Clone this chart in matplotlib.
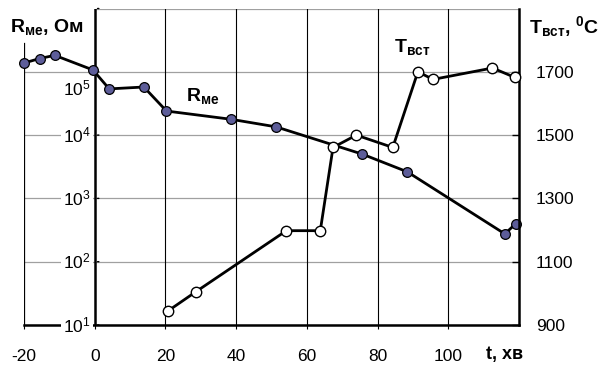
import matplotlib
matplotlib.use("Agg")
import matplotlib.pyplot as plt
import numpy as np

plt.rcParams['font.family'] = ['Liberation Sans', 'DejaVu Sans']
plt.rcParams['mathtext.fontset'] = 'custom'
plt.rcParams['mathtext.rm'] = 'Liberation Sans'
plt.rcParams['mathtext.bf'] = 'Liberation Sans:bold'
plt.rcParams['mathtext.it'] = 'Liberation Sans:italic'

# Data
t_r = [-19.9, -15.6, -11.3, -0.5, 4.1, 13.9, 20.3, 38.5, 51.3, 75.7, 88.4, 116.0, 119.1]
r_me = [138000, 162000, 182000, 107000, 53700, 57500, 24000, 17800, 13500, 5000, 2630, 275, 400]
t_t = [20.8, 28.6, 54.2, 63.8, 67.4, 74.0, 84.3, 91.4, 95.7, 112.5, 118.9]
t_vst = [945, 1005, 1198, 1198, 1461, 1500, 1461, 1700, 1676, 1712, 1682]

x_ticks = [-20, 0, 20, 40, 60, 80, 100]
r_ticks = [1e1, 1e2, 1e3, 1e4, 1e5]
r_tick_labels = [r'$\mathregular{10^{1}}$', r'$\mathregular{10^{2}}$', r'$\mathregular{10^{3}}$',
                 r'$\mathregular{10^{4}}$', r'$\mathregular{10^{5}}$']
t_ticks = [900, 1100, 1300, 1500, 1700]

W, H = 602, 367
fig = plt.figure(figsize=(W / 100, H / 100), dpi=100)
ax = fig.add_axes([24 / W, 1 - 325 / H, (519 - 24) / W, (325 - 8.5) / H])
ax.set_xlim(-20, 120)
ax.set_yscale('log')
ax.set_ylim(10, 1e6)

# grid
for v in [1e1, 1e2, 1e3, 1e4, 1e5]:
    ax.axhline(v, color='#a0a0a0', lw=0.9, zorder=0.5)
ax.plot([0, 120], [1e6, 1e6], color='#a0a0a0', lw=0.9, zorder=0.5)
for xv in [20, 40, 60, 80, 100]:
    ax.axvline(xv, color='black', lw=0.8, zorder=0.5)
ax.axvline(-20, ymax=0.89, color='black', lw=0.9, zorder=0.5)

# spines
for s in ['top', 'left', 'right']:
    ax.spines[s].set_visible(False)
ax.spines['bottom'].set_linewidth(1.8)
ax.axvline(0, color='black', lw=1.8, zorder=2.4)

ax.set_xticks(x_ticks)
ax.set_xticklabels([str(v) for v in x_ticks], fontsize=12.5)
ax.tick_params(axis='x', direction='out', length=3, width=0.8, pad=14)
ax.set_yticks([])
ax.yaxis.set_minor_locator(matplotlib.ticker.NullLocator())
ax.tick_params(axis='y', which='both', left=False, labelleft=False)

# y tick marks at x=0 and labels
for v in r_ticks + [1e6]:
    ax.annotate('', xy=(0, v), xytext=(5, 0), textcoords='offset points', xycoords='data',
                arrowprops=dict(arrowstyle='-', color='black', lw=1.0))
for v, lab in zip(r_ticks, r_tick_labels):
    dy = -12 if v == 1e5 else 0
    ax.annotate(lab, xy=(0, v), xytext=(-3, dy), textcoords='offset points', ha='right', va='center',
                fontsize=12.5, zorder=4, bbox=dict(facecolor='white', edgecolor='none', pad=1.5))

ax.plot(t_r, r_me, color='black', lw=2.0, marker='o', ms=7, mfc='#5d5d99', mec='black', mew=0.9,
        zorder=3, clip_on=False)

ax2 = ax.twinx()
ax2.set_ylim(900, 1900)
ax2.set_xlim(-20, 120)
for s in ['top', 'left', 'bottom']:
    ax2.spines[s].set_visible(False)
ax2.spines['right'].set_linewidth(1.8)
ax2.set_yticks(t_ticks)
ax2.set_yticklabels([str(v) for v in t_ticks], fontsize=12.5)
ax2.tick_params(axis='y', direction='in', length=5, width=1.0, pad=12)
ax2.plot(t_t, t_vst, color='black', lw=2.0, marker='o', ms=7.5, mfc='white', mec='black', mew=1.0,
         zorder=3, clip_on=False)

# texts
fig.text(10 / W, 1 - 27 / H, r'$\mathbf{R_{ме}}$, Ом', fontsize=14, fontweight='bold', va='center',
         ha='left', bbox=dict(facecolor='white', edgecolor='none', pad=3))
fig.text(529 / W, 1 - 27 / H, r'$\mathbf{T_{вст}}$, $\mathbf{^{0}}$C', fontsize=14, fontweight='bold',
         va='center', ha='left')
fig.text(486 / W, 1 - 355 / H, 't, хв', fontsize=13, fontweight='bold', va='center', ha='left')
fig.text(186 / W, 1 - 96 / H, r'$\mathbf{R_{ме}}$', fontsize=14, va='center', ha='left')
fig.text(394 / W, 1 - 47 / H, r'$\mathbf{T_{вст}}$', fontsize=14, va='center', ha='left')

fig.savefig('out.png', dpi=100)
